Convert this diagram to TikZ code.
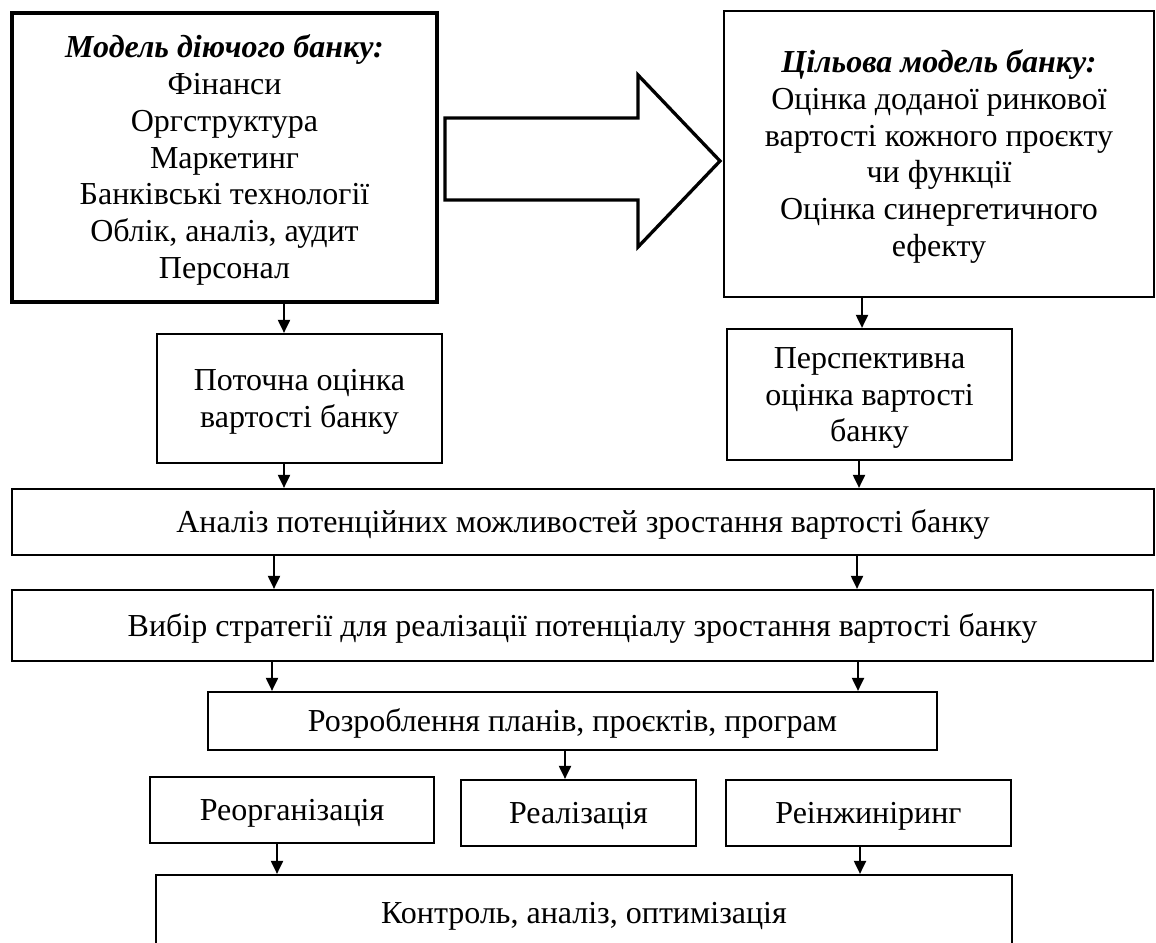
\documentclass[tikz,border=0pt]{standalone}
\usepackage{fontspec}
\setmainfont{Liberation Serif}
\usetikzlibrary{arrows.meta}
\begin{document}
\begin{tikzpicture}[x=1pt,y=-1pt,
  box/.style={draw, line width=2.2pt, inner sep=0pt, align=center,
    font=\fontsize{32}{36.8}\selectfont, text height=21pt, text depth=0pt},
  lines/.style={text height=21pt+(#1-1)*36.8pt},
  arr/.style={line width=2pt, -{Triangle[length=13pt,width=12pt]}}]
\useasboundingbox (0,0) rectangle (1156,942);
\clip (0,0) rectangle (1156,942);

% top boxes
\node[box, lines=7, line width=4.5pt, minimum width=425pt, minimum height=289pt] (cur) at (224.5,157.5)
  {\textbf{\textit{Модель діючого банку:}}\\Фінанси\\Оргструктура\\Маркетинг\\Банківські технології\\Облік, аналіз, аудит\\Персонал};
\node[box, lines=6, minimum width=430pt, minimum height=286pt] (tgt) at (939,154)
  {\textbf{\textit{Цільова модель банку:}}\\Оцінка доданої ринкової\\вартості кожного проєкту\\чи функції\\Оцінка синергетичного\\ефекту};

% block arrow
\draw[line width=3.3pt, line join=miter] (445,118) -- (638,118) -- (638,75) -- (720,161)
  -- (638,247) -- (638,200) -- (445,200) -- cycle;

% valuation boxes
\node[box, lines=2, minimum width=285pt, minimum height=129pt] (pot) at (299.5,398.5)
  {Поточна оцінка\\вартості банку};
\node[box, lines=3, minimum width=285pt, minimum height=131pt] (per) at (869.5,394.5)
  {Перспективна\\оцінка вартості\\банку};

% wide boxes
\node[box, minimum width=1142pt, minimum height=66pt] (an) at (583,522)
  {Аналіз потенційних можливостей зростання вартості банку};
\node[box, minimum width=1141pt, minimum height=71pt] (vyb) at (582.5,625.5)
  {Вибір стратегії для реалізації потенціалу зростання вартості банку};
\node[box, minimum width=729pt, minimum height=58pt] (roz) at (572.5,721)
  {Розроблення планів, проєктів, програм};

% three boxes
\node[box, minimum width=284pt, minimum height=66pt] (reo) at (292,810) {Реорганізація};
\node[box, minimum width=235pt, minimum height=66pt] (rea) at (578.5,813) {Реалізація};
\node[box, minimum width=285pt, minimum height=66pt] (rei) at (868.5,813) {Реінжиніринг};

% bottom box
\node[box, minimum width=856pt, minimum height=75pt] (kon) at (584,912.5)
  {Контроль, аналіз, оптимізація};

% connectors
\draw[arr] (cur.south -| 284,0) -- (pot.north -| 284,0);
\draw[arr] (tgt.south -| 862,0) -- (per.north -| 862,0);
\draw[arr] (pot.south -| 284,0) -- (an.north -| 284,0);
\draw[arr] (per.south -| 859,0) -- (an.north -| 859,0);
\draw[arr] (an.south -| 274,0) -- (vyb.north -| 274,0);
\draw[arr] (an.south -| 857,0) -- (vyb.north -| 857,0);
\draw[arr] (vyb.south -| 272,0) -- (roz.north -| 272,0);
\draw[arr] (vyb.south -| 858,0) -- (roz.north -| 858,0);
\draw[arr] (roz.south -| 565,0) -- (rea.north -| 565,0);
\draw[arr] (reo.south -| 277,0) -- (kon.north -| 277,0);
\draw[arr] (rei.south -| 860,0) -- (kon.north -| 860,0);
\end{tikzpicture}
\end{document}
